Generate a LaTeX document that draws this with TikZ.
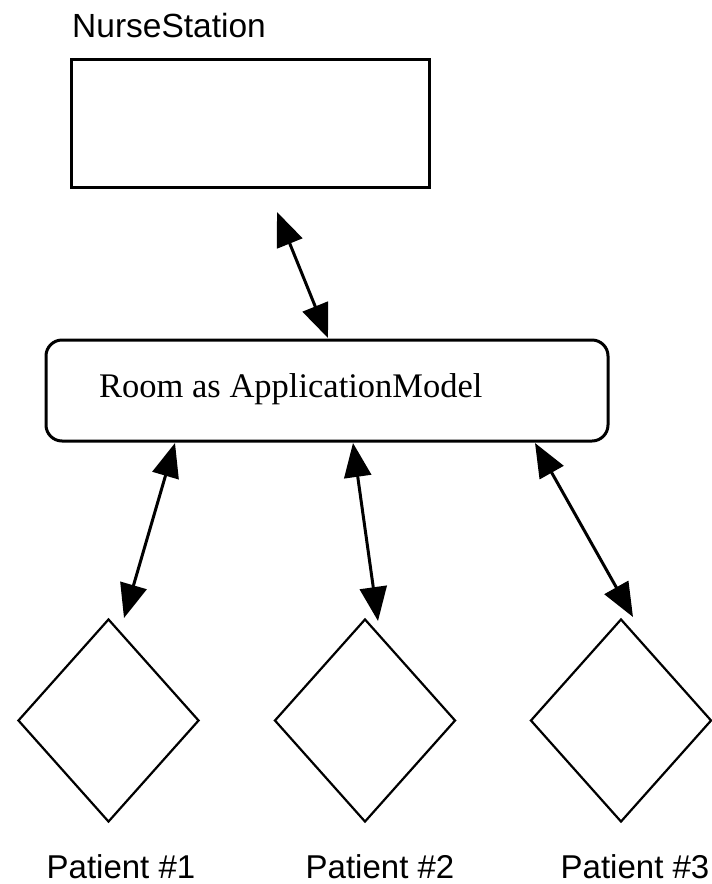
\documentclass[tikz,border=0pt]{standalone}
\usepackage{fontspec}
\setmainfont{Liberation Serif}
\newfontfamily\labelfont{Liberation Sans}
\usetikzlibrary{arrows.meta,shapes.geometric}

\begin{document}
\begin{tikzpicture}[x=1pt,y=-1pt,
  stationbox/.style={draw, line width=3pt, minimum width=358pt, minimum height=128pt, inner sep=0pt},
  modelbox/.style={draw, line width=3pt, rounded corners=16pt, minimum width=562pt, minimum height=101pt, inner sep=0pt},
  patientshape/.style={draw, diamond, line width=2.2pt, minimum width=181pt, minimum height=203pt, inner sep=0pt},
  caption/.style={font=\labelfont\fontsize{33}{39}\selectfont, inner sep=0pt},
  link/.style={line width=3pt, {Triangle[length=34pt,width=27pt]}-{Triangle[length=34pt,width=27pt]}}
]
\useasboundingbox (0,0) rectangle (712,884);

% Nurse station
\node[stationbox] (nurse) at (250,123) {};
\node[caption, anchor=base west, font=\labelfont\fontsize{33.5}{40}\selectfont] (nurselabel) at (72,37) {NurseStation};

% Room application model
\node[modelbox] (room) at (327,390.5) {};
\node[anchor=base west, inner sep=0pt, font=\fontsize{34.5}{41}\selectfont] (roomlabel) at (99,397) {Room as ApplicationModel};

% Patients
\node[patientshape] (p1) at (108.5,720.5) {};
\node[patientshape] (p2) at (365,720.5) {};
\node[patientshape] (p3) at (621,720.5) {};
\node[caption, anchor=base] (p1label) at (121,878) {Patient \#1};
\node[caption, anchor=base] (p2label) at (380,878) {Patient \#2};
\node[caption, anchor=base] (p3label) at (635,878) {Patient \#3};

% Connector end points
\coordinate (n0) at (277,212);
\coordinate (r0) at (328,338);
\coordinate (r1) at (175,443);
\coordinate (q1) at (124,618);
\coordinate (r2) at (353,443);
\coordinate (q2) at (378,621);
\coordinate (r3) at (535,443);
\coordinate (q3) at (633,617);

\draw[link] (n0) -- (r0);
\draw[link] (r1) -- (q1);
\draw[link] (r2) -- (q2);
\draw[link] (r3) -- (q3);
\end{tikzpicture}
\end{document}
